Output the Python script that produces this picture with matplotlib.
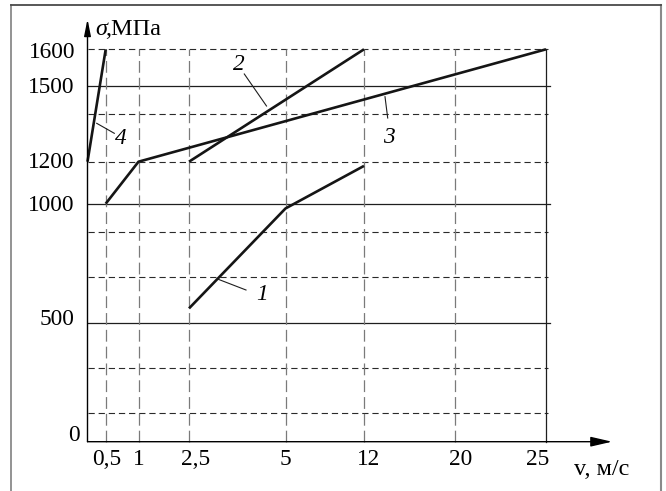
import numpy as np
import matplotlib
matplotlib.use("Agg")
import matplotlib.pyplot as plt
from matplotlib.lines import Line2D

# ---------------- data ----------------
v_ticks = [0.5, 1, 2.5, 5, 12, 20, 25]
v_tick_labels = ["0,5", "1", "2,5", "5", "12", "20", "25"]
s_ticks = [0, 500, 1000, 1200, 1500, 1600]
s_tick_labels = ["0", "500", "1000", "1200", "1500", "1600"]

s_solid = [500, 1000, 1500]
s_dashed = [120, 310, 690, 880, 1200, 1390, 1600]
v_dashed = [0.5, 1, 2.5, 5, 12, 20]
v_solid = [25]

curve1_v = [2.5, 5, 12]
curve1_s = [560, 980, 1180]
curve2_v = [2.5, 12]
curve2_s = [1200, 1600]
curve3_v = [0.5, 1, 25]
curve3_s = [1000, 1200, 1600]
curve4_v = [0, 0.5]
curve4_s = [1200, 1600]
curve_labels = ["1", "2", "3", "4"]

x_label = "v, м/с"
y_label_sym = "σ"
y_label_unit = ",МПа"

# ---------------- layout / scales ----------------
W, H = 666, 491
FONT = "Liberation Serif"
FS = 16.8
FS_T = 17.5

# non-uniform axis scales (value -> pixel offset from origin)
XK_V = [0, 0.5, 1, 2.5, 5, 12, 20, 25]
XK_P = [0, 18.2, 51, 101.5, 198, 276.5, 367, 458.5]
YK_V = [0, 500, 1000, 1200, 1500, 1600]
YK_P = [0, 119, 238, 280, 356, 392.4]


def make_pw(xs, ps):
    xs = np.asarray(xs, float)
    ps = np.asarray(ps, float)

    def f(x):
        x = np.asarray(x, float)
        y = np.interp(x, xs, ps)
        y = np.where(x < xs[0], ps[0] + (x - xs[0]) * (ps[1] - ps[0]) / (xs[1] - xs[0]), y)
        y = np.where(x > xs[-1], ps[-1] + (x - xs[-1]) * (ps[-1] - ps[-2]) / (xs[-1] - xs[-2]), y)
        return y
    return f


x_fwd, x_inv = make_pw(XK_V, XK_P), make_pw(XK_P, XK_V)
y_fwd, y_inv = make_pw(YK_V, YK_P), make_pw(YK_P, YK_V)

plt.rcParams["lines.scale_dashes"] = False

fig = plt.figure(figsize=(W / 100, H / 100), dpi=100)
x0, y0 = 87.5, 441.7
ax = fig.add_axes([x0 / W, (H - y0) / H, XK_P[-1] / W, YK_P[-1] / H])
ax.set_xscale("function", functions=(x_fwd, x_inv))
ax.set_yscale("function", functions=(y_fwd, y_inv))
ax.set_xlim(0, 25)
ax.set_ylim(0, 1600)
ax.set_xticks([])
ax.set_yticks([])
ax.minorticks_off()
for sp in ax.spines.values():
    sp.set_visible(False)
ax.patch.set_alpha(0)

# grid lines
ytrans = ax.get_yaxis_transform()
for s in s_solid:
    ax.plot([0, 1.009], [s, s], transform=ytrans, color="#1e1e1e", lw=0.9,
            clip_on=False, zorder=2)
for s in s_dashed:
    ax.plot([0, 1.004], [s, s], transform=ytrans, color="#2a2a2a", lw=0.8,
            dashes=(4.5, 2.8), clip_on=False, zorder=2)
for v in v_dashed:
    ax.plot([v, v], [0, 1600], color="#7a7a7a", lw=0.9, dashes=(8.5, 3.6),
            clip_on=False, zorder=2)
for v in v_solid:
    ax.plot([v, v], [0, 1600], color="#1e1e1e", lw=0.9, clip_on=False, zorder=2)

# curves
for cv, cs in [(curve1_v, curve1_s), (curve2_v, curve2_s),
               (curve3_v, curve3_s), (curve4_v, curve4_s)]:
    ax.plot(cv, cs, color="#151515", lw=1.9, clip_on=False, zorder=4,
            solid_capstyle="butt")

# axes with arrows
ax.annotate("", xy=(1.144, 0), xytext=(0, 0), xycoords="axes fraction",
            arrowprops=dict(arrowstyle="-|>,head_length=1.3,head_width=0.3",
                            lw=1.0, color="black", shrinkA=0, shrinkB=0,
                            mutation_scale=10), zorder=5)
ax.annotate("", xy=(0, 1.077), xytext=(0, 0), xycoords="axes fraction",
            arrowprops=dict(arrowstyle="-|>,head_length=1.0,head_width=0.2",
                            lw=1.0, color="black", shrinkA=0, shrinkB=0,
                            mutation_scale=10), zorder=5)

# tick labels
x_dx = [1.0, 0.5, 7.0, -0.5, 5.0, 6.5, -8.0]
for v, lbl, dx in zip(v_ticks, v_tick_labels, x_dx):
    ax.annotate(lbl, xy=(v, 0), xycoords=("data", "axes fraction"),
                xytext=(dx, -15.3), textcoords="offset pixels",
                ha="center", va="center_baseline", fontsize=FS, family=FONT)

y_dx = [-7.5, -13.5, -13.5, -13.5, -13.5, -12.5]
y_dy = [8.7, 6.0, 0.7, 1.7, 0.7, -0.7]
for s, lbl, dx, dy in zip(s_ticks, s_tick_labels, y_dx, y_dy):
    ax.annotate(lbl, xy=(0, s), xycoords=("axes fraction", "data"),
                xytext=(dx, dy), textcoords="offset pixels",
                ha="right", va="center_baseline", fontsize=FS, family=FONT)


def fp(x, y):
    """image pixel (top-left origin) -> figure fraction"""
    return x / W, 1 - y / H


# axis titles
fig.text(*fp(95, 26.7), y_label_sym, ha="left", va="center_baseline",
         fontsize=FS_T, family=FONT, style="italic")
fig.text(*fp(105.5, 26.7), y_label_unit, ha="left", va="center_baseline",
         fontsize=FS_T, family=FONT)
fig.text(*fp(601.5, 466.7), x_label, ha="center", va="center_baseline",
         fontsize=FS_T, family=FONT)

# curve labels with leader lines
label_pos = [(262, 291.7), (238.5, 62.5), (389, 135), (121, 136.5)]
leaders = [((218.3, 279.3), (246, 290)), ((244.3, 74), (266.5, 106)),
           ((385, 96.7), (387.7, 118)), ((96.7, 123.3), (114.3, 133.3))]
for lbl, (tx, ty), (p, q) in zip(curve_labels, label_pos, leaders):
    fig.text(*fp(tx, ty), lbl, ha="center", va="center_baseline",
             fontsize=FS, family=FONT, style="italic")
    a, b = fp(*p), fp(*q)
    fig.add_artist(Line2D([a[0], b[0]], [a[1], b[1]], transform=fig.transFigure,
                          color="#1e1e1e", lw=0.8))

# outer frame
def fline(xs, ys, color, lw):
    pts = [fp(x, y) for x, y in zip(xs, ys)]
    fig.add_artist(Line2D([p[0] for p in pts], [p[1] for p in pts],
                          transform=fig.transFigure, color=color, lw=lw))

fline([11, 11], [4.5, 491], "#8a8a8a", 1.3)
fline([660.5, 660.5], [4.5, 491], "#8a8a8a", 1.5)
fline([11, 660.5], [4.5, 4.5], "#4a4a4a", 1.3)

fig.savefig("out.png", dpi=100)
